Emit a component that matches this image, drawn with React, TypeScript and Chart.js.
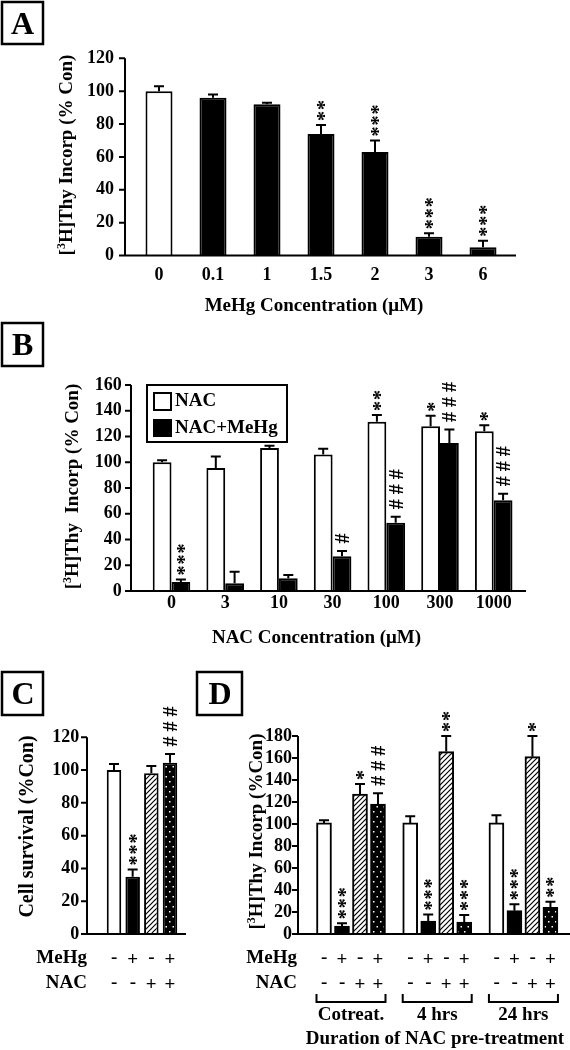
import React, { useEffect, useRef } from 'react';
import { Chart, registerables } from 'chart.js';

Chart.register(...registerables);

const SERIF = '"Liberation Serif", "Times New Roman", Times, serif';
const font = (size: number) => `bold ${size}px ${SERIF}`;

// ---------- Panel A : MeHg dose response ----------
const mehgConcLabels = ['0', '0.1', '1', '1.5', '2', '3', '6'];
const mehgThy = [100, 96, 92, 74, 63, 11.4, 5];
const mehgThyErr = [3, 2, 1, 5.4, 7, 2.1, 4];
const mehgThySig = ['', '', '', '**', '***', '***', '***'];

// ---------- Panel B : NAC dose response ----------
const nacConcLabels = ['0', '3', '10', '30', '100', '300', '1000'];
const nacThy = [100, 95.5, 111, 106, 131.5, 128, 124];
const nacThyErr = [1.5, 9, 1.8, 4.5, 5.2, 8.2, 4.8];
const nacMehgThy = [7, 6, 10, 27, 53, 115, 70.5];
const nacMehgThyErr = [2, 9, 2.5, 4, 4.7, 10.5, 5];
const nacThySig = ['', '', '', '', '**', '*', '*'];
const nacMehgThySig = ['***', '', '', '#', '###', '###', '###'];
const legendB = ['NAC', 'NAC+MeHg'];

// ---------- Panel C : cell survival ----------
const treatMehg = ['-', '+', '-', '+'];
const treatNac = ['-', '-', '+', '+'];
const survival = [100, 35, 98, 104.5];
const survivalErr = [3.7, 4.4, 4.5, 5.3];
const survivalSig = ['', '***', '', '###'];

// ---------- Panel D : NAC pre-treatment ----------
const pretreatGroups = ['Cotreat.', '4 hrs', '24 hrs'];
const thyCtrl = [101, 101, 101];
const thyCtrlErr = [2.4, 6, 7];
const thyMehg = [7.3, 11.8, 21.2];
const thyMehgErr = [2.4, 6, 5.8];
const thyNac = [127.3, 165.8, 161.2];
const thyNacErr = [9, 14.2, 18.8];
const thyBoth = [118.2, 10.9, 24.2];
const thyBothErr = [9.7, 6.4, 5.2];
const sigCtrl = ['', '', ''];
const sigMehg = ['***', '***', '***'];
const sigNac = ['*', '**', '*'];
const sigBoth = ['###', '***', '**'];

// ---------- layout constants ----------
const GROUP_STEP_D = 4.79;

type Seg = { t: string; sup?: boolean };

function drawRich(ctx: CanvasRenderingContext2D, segs: Seg[], cx: number, cy: number, size: number, rot = 0, align: 'center' | 'right' | 'left' = 'center') {
  ctx.save();
  ctx.translate(cx, cy);
  if (rot) ctx.rotate(rot);
  ctx.fillStyle = '#000';
  ctx.textBaseline = 'middle';
  ctx.textAlign = 'left';
  const sup = Math.round(size * 0.62);
  let total = 0;
  for (const s of segs) {
    ctx.font = font(s.sup ? sup : size);
    total += ctx.measureText(s.t).width;
  }
  let x = align === 'center' ? -total / 2 : align === 'right' ? -total : 0;
  for (const s of segs) {
    ctx.font = font(s.sup ? sup : size);
    ctx.fillText(s.t, x, s.sup ? -size * 0.28 : 0);
    x += ctx.measureText(s.t).width;
  }
  ctx.restore();
}

function drawGlyph(ctx: CanvasRenderingContext2D, ch: string, x: number, y: number, size: number, rot = 0) {
  ctx.save();
  ctx.translate(x, y);
  if (rot) ctx.rotate(rot);
  ctx.font = font(size);
  ctx.fillStyle = '#000';
  ctx.textAlign = 'left';
  ctx.textBaseline = 'alphabetic';
  const m = ctx.measureText(ch);
  const dx = -(m.actualBoundingBoxRight - m.actualBoundingBoxLeft) / 2;
  const dy = (m.actualBoundingBoxAscent - m.actualBoundingBoxDescent) / 2;
  ctx.fillText(ch, dx, dy);
  ctx.restore();
}

function drawBox(ctx: CanvasRenderingContext2D, x: number, y: number, w: number, h: number, letter: string) {
  ctx.save();
  ctx.strokeStyle = '#000';
  ctx.lineWidth = 2.5;
  ctx.strokeRect(x, y, w, h);
  ctx.restore();
  drawGlyph(ctx, letter, x + w / 2, y + h / 2, 32);
}

function drawAxes(chart: any, axisX: number, axisEnd: number) {
  const { ctx } = chart;
  const y = chart.scales.y;
  const top = y.getPixelForValue(y.max);
  const bot = y.getPixelForValue(0);
  ctx.save();
  ctx.strokeStyle = '#000';
  ctx.lineWidth = 2;
  ctx.beginPath();
  ctx.moveTo(axisX, top);
  ctx.lineTo(axisX, bot + 1);
  ctx.moveTo(axisX - 1, bot);
  ctx.lineTo(axisEnd, bot);
  for (const t of y.ticks) {
    const py = y.getPixelForValue(t.value);
    ctx.moveTo(axisX - 6, py);
    ctx.lineTo(axisX, py);
  }
  ctx.stroke();
  ctx.restore();
}

function drawErrors(chart: any, vals: number[][], errs: number[][]) {
  const { ctx } = chart;
  const y = chart.scales.y;
  ctx.save();
  ctx.strokeStyle = '#000';
  ctx.lineWidth = 2;
  ctx.beginPath();
  vals.forEach((row, d) => {
    const meta = chart.getDatasetMeta(d);
    row.forEach((v, i) => {
      const el = meta.data[i];
      const y0 = y.getPixelForValue(v);
      const y1 = y.getPixelForValue(v + errs[d][i]);
      ctx.moveTo(el.x, y0);
      ctx.lineTo(el.x, y1);
      ctx.moveTo(el.x - 5, y1);
      ctx.lineTo(el.x + 5, y1);
    });
  });
  ctx.stroke();
  ctx.restore();
}

function drawSigs(chart: any, vals: number[][], errs: number[][], sigs: string[][]) {
  const { ctx } = chart;
  const y = chart.scales.y;
  sigs.forEach((row, d) => {
    const meta = chart.getDatasetMeta(d);
    row.forEach((s, i) => {
      if (!s) return;
      const el = meta.data[i];
      const cap = y.getPixelForValue(vals[d][i] + errs[d][i]);
      const hash = s[0] === '#';
      const step = hash ? 15 : 11;
      let cy = cap - (hash ? 12.5 : 9);
      for (const ch of s) {
        drawGlyph(ctx, ch, el.x, cy, 20, -Math.PI / 2);
        cy -= step;
      }
    });
  });
}

function hatchPattern(ctx: CanvasRenderingContext2D) {
  const c = document.createElement('canvas');
  c.width = 5;
  c.height = 5;
  const g = c.getContext('2d')!;
  g.fillStyle = '#fff';
  g.fillRect(0, 0, 5, 5);
  g.strokeStyle = '#000';
  g.lineWidth = 1.2;
  g.beginPath();
  g.moveTo(-1, 6);
  g.lineTo(6, -1);
  g.moveTo(-1, 1);
  g.lineTo(1, -1);
  g.moveTo(4, 6);
  g.lineTo(6, 4);
  g.stroke();
  return ctx.createPattern(c, 'repeat')!;
}

function dotPattern(ctx: CanvasRenderingContext2D) {
  const c = document.createElement('canvas');
  c.width = 7;
  c.height = 10;
  const g = c.getContext('2d')!;
  g.fillStyle = '#000';
  g.fillRect(0, 0, 7, 10);
  g.fillStyle = '#fff';
  g.fillRect(1, 1, 1.5, 1.5);
  g.fillRect(4.5, 6, 1.5, 1.5);
  return ctx.createPattern(c, 'repeat')!;
}

const tickFont = { family: SERIF, size: 18, weight: 'bold' as const };

function yScale(max: number, width: number, pad: number) {
  return {
    type: 'linear' as const,
    min: 0,
    max,
    grid: { display: false, drawTicks: false },
    border: { display: false },
    ticks: { stepSize: 20, autoSkip: false, padding: pad, color: '#000', font: tickFont },
    afterFit: (s: any) => {
      s.width = width;
    },
  };
}

function baseOptions(padding: any, scales: any) {
  return {
    responsive: false,
    animation: false as const,
    devicePixelRatio: 1,
    events: [] as any[],
    layout: { padding },
    plugins: { legend: { display: false }, tooltip: { enabled: false }, title: { display: false } },
    scales,
  };
}

function catX(pad: number, height: number, showTicks: boolean) {
  return {
    type: 'category' as const,
    offset: true,
    grid: { display: false, drawTicks: false },
    border: { display: false },
    ticks: { display: showTicks, padding: pad, color: '#000', font: tickFont, autoSkip: false, maxRotation: 0, minRotation: 0 },
    afterFit: (s: any) => {
      s.height = height;
    },
  };
}

const thyTitleA: Seg[] = [{ t: '[' }, { t: '3', sup: true }, { t: 'H]Thy Incorp (% Con)' }];
const thyTitleB: Seg[] = [{ t: '[' }, { t: '3', sup: true }, { t: 'H]Thy  Incorp (% Con)' }];
const thyTitleD: Seg[] = [{ t: '[' }, { t: '3', sup: true }, { t: 'H]Thy Incorp (%Con)' }];

function makeA(canvas: HTMLCanvasElement) {
  const decor = {
    id: 'decorA',
    afterDatasetsDraw(chart: any) {
      drawErrors(chart, [mehgThy], [mehgThyErr]);
      drawSigs(chart, [mehgThy], [mehgThyErr], [mehgThySig]);
    },
    afterDraw(chart: any) {
      const ctx = chart.ctx;
      drawAxes(chart, 125, 516);
      drawBox(ctx, 2, 2, 41, 42, 'A');
      drawRich(ctx, thyTitleA, 67.5, 155, 19, -Math.PI / 2);
      drawRich(ctx, [{ t: 'MeHg Concentration (\u03bcM)' }], 314, 306, 19);
    },
  };
  return new Chart(canvas, {
    type: 'bar',
    data: {
      labels: mehgConcLabels,
      datasets: [
        {
          label: 'MeHg',
          data: mehgThy,
          backgroundColor: mehgThy.map((_, i) => (i === 0 ? '#fff' : '#000')),
          borderColor: '#000',
          borderWidth: 2,
          barPercentage: 0.5,
          categoryPercentage: 1,
        },
      ],
    },
    options: baseOptions({ left: 0, right: 60, top: 58.3, bottom: 0 }, {
      x: catX(9, 64.5, true),
      y: yScale(120, 132, 18),
    }) as any,
    plugins: [decor],
  });
}

function makeB(canvas: HTMLCanvasElement) {
  const decor = {
    id: 'decorB',
    afterDatasetsDraw(chart: any) {
      drawErrors(chart, [nacThy, nacMehgThy], [nacThyErr, nacMehgThyErr]);
      drawSigs(chart, [nacThy, nacMehgThy], [nacThyErr, nacMehgThyErr], [nacThySig, nacMehgThySig]);
    },
    afterDraw(chart: any) {
      const ctx = chart.ctx;
      drawAxes(chart, 131, 526);
      drawBox(ctx, 2, 3, 41, 43, 'B');
      drawRich(ctx, thyTitleB, 73, 166.5, 19, -Math.PI / 2);
      drawRich(ctx, [{ t: 'NAC Concentration (\u03bcM)' }], 316.5, 318, 19);
      // legend
      ctx.save();
      ctx.strokeStyle = '#000';
      ctx.lineWidth = 2;
      ctx.strokeRect(147, 65, 140, 57);
      ctx.fillStyle = '#fff';
      ctx.fillRect(154, 73, 17, 17);
      ctx.strokeRect(154, 73, 17, 17);
      ctx.fillStyle = '#000';
      ctx.fillRect(153, 99, 19, 18);
      ctx.restore();
      drawRich(ctx, [{ t: legendB[0] }], 175, 81.5, 19, 0, 'left');
      drawRich(ctx, [{ t: legendB[1] }], 175, 108, 19, 0, 'left');
    },
  };
  return new Chart(canvas, {
    type: 'bar',
    data: {
      labels: nacConcLabels,
      datasets: [
        { label: legendB[0], data: nacThy, backgroundColor: '#fff', borderColor: '#000', borderWidth: 2, barPercentage: 1, categoryPercentage: 0.7 },
        { label: legendB[1], data: nacMehgThy, backgroundColor: '#000', borderColor: '#000', borderWidth: 2, barPercentage: 1, categoryPercentage: 0.7 },
      ],
    },
    options: baseOptions({ left: 0, right: 49.45, top: 65, bottom: 0 }, {
      x: catX(2, 59, true),
      y: yScale(160, 144.65, 23),
    }) as any,
    plugins: [decor],
  });
}

function makeC(canvas: HTMLCanvasElement) {
  const ctx0 = canvas.getContext('2d')!;
  const fills = ['#fff', '#000', hatchPattern(ctx0), dotPattern(ctx0)];
  const decor = {
    id: 'decorC',
    afterDatasetsDraw(chart: any) {
      drawErrors(chart, [survival], [survivalErr]);
      drawSigs(chart, [survival], [survivalErr], [survivalSig]);
    },
    afterDraw(chart: any) {
      const ctx = chart.ctx;
      drawAxes(chart, 87, 186);
      drawBox(ctx, 2, 22, 41, 43, 'C');
      drawRich(ctx, [{ t: 'Cell survival (%Con)' }], 28, 176.5, 20, -Math.PI / 2);
      drawRich(ctx, [{ t: 'MeHg' }], 87, 308, 19, 0, 'right');
      drawRich(ctx, [{ t: 'NAC' }], 87, 333, 19, 0, 'right');
      const meta = chart.getDatasetMeta(0);
      meta.data.forEach((el: any, i: number) => {
        drawGlyph(ctx, treatMehg[i], el.x, 308, 19);
        drawGlyph(ctx, treatNac[i], el.x, 333, 19);
      });
    },
  };
  return new Chart(canvas, {
    type: 'bar',
    data: {
      labels: treatMehg.map((m, i) => `MeHg ${m} / NAC ${treatNac[i]}`),
      datasets: [
        { label: 'Cell survival', data: survival, backgroundColor: fills as any, borderColor: '#000', borderWidth: 2, barPercentage: 0.777, categoryPercentage: 1 },
      ],
    },
    options: baseOptions({ left: 0, right: 10.67, top: 87.3, bottom: 0 }, {
      x: catX(0, 116, false),
      y: yScale(120, 104.67, 25.5),
    }) as any,
    plugins: [decor],
  });
}

function makeD(canvas: HTMLCanvasElement) {
  const ctx0 = canvas.getContext('2d')!;
  const fills = ['#fff', '#000', hatchPattern(ctx0), dotPattern(ctx0)];
  const vals = [thyCtrl, thyMehg, thyNac, thyBoth];
  const errs = [thyCtrlErr, thyMehgErr, thyNacErr, thyBothErr];
  const sigs = [sigCtrl, sigMehg, sigNac, sigBoth];
  const names = ['Control', 'MeHg', 'NAC', 'NAC+MeHg'];
  const decor = {
    id: 'decorD',
    afterDatasetsDraw(chart: any) {
      drawErrors(chart, vals, errs);
      drawSigs(chart, vals, errs, sigs);
    },
    afterDraw(chart: any) {
      const ctx = chart.ctx;
      drawAxes(chart, 108, 380);
      drawBox(ctx, 7, 22, 45, 43, 'D');
      drawRich(ctx, thyTitleD, 67.5, 181.5, 19, -Math.PI / 2);
      drawRich(ctx, [{ t: 'MeHg' }], 107, 308, 19, 0, 'right');
      drawRich(ctx, [{ t: 'NAC' }], 107, 333, 19, 0, 'right');
      vals.forEach((_, d) => {
        const meta = chart.getDatasetMeta(d);
        meta.data.forEach((el: any) => {
          drawGlyph(ctx, treatMehg[d], el.x, 308, 19);
          drawGlyph(ctx, treatNac[d], el.x, 333, 19);
        });
      });
      const first = chart.getDatasetMeta(0);
      const last = chart.getDatasetMeta(3);
      ctx.save();
      ctx.strokeStyle = '#000';
      ctx.lineWidth = 2;
      pretreatGroups.forEach((name, g) => {
        const a: any = first.data[g];
        const b: any = last.data[g];
        const l = a.x - a.width / 2;
        const r = b.x + b.width / 2;
        ctx.beginPath();
        ctx.moveTo(l, 344);
        ctx.lineTo(l, 352);
        ctx.lineTo(r, 352);
        ctx.lineTo(r, 344);
        ctx.stroke();
        drawRich(ctx, [{ t: name }], (l + r) / 2, 365, 19);
      });
      ctx.restore();
      drawRich(ctx, [{ t: 'Duration of NAC pre-treatment' }], 245, 389, 19);
    },
  };
  return new Chart(canvas, {
    type: 'bar',
    data: {
      datasets: vals.map((row, d) => ({
        label: names[d],
        data: row.map((v, g) => ({ x: g * GROUP_STEP_D + d, y: v })),
        backgroundColor: fills[d] as any,
        borderColor: '#000',
        borderWidth: 2,
        barThickness: 15,
        grouped: false,
      })),
    },
    options: baseOptions({ left: 0, right: 0, top: 86, bottom: 0 }, {
      x: {
        type: 'linear',
        min: -1.444,
        max: 13.667,
        offset: false,
        grid: { display: false, drawTicks: false, offset: false },
        border: { display: false },
        ticks: { display: false },
        afterFit: (s: any) => {
          s.height = 116;
        },
      },
      y: yScale(180, 108, 6),
    }) as any,
    plugins: [decor],
  });
}

function ChartCanvas({ left, top, width, height, make }: { left: number; top: number; width: number; height: number; make: (c: HTMLCanvasElement) => Chart }) {
  const ref = useRef<HTMLCanvasElement>(null);
  useEffect(() => {
    const chart = make(ref.current!);
    return () => chart.destroy();
  }, []);
  return (
    <canvas
      ref={ref}
      width={width}
      height={height}
      style={{ position: 'absolute', left, top, width, height, display: 'block' }}
    />
  );
}

export default function App() {
  return (
    <div style={{ position: 'absolute', left: 0, top: 0, width: 570, height: 1050, background: '#fff', overflow: 'hidden' }}>
      <ChartCanvas left={0} top={0} width={570} height={320} make={makeA} />
      <ChartCanvas left={0} top={320} width={570} height={330} make={makeB} />
      <ChartCanvas left={0} top={650} width={190} height={400} make={makeC} />
      <ChartCanvas left={190} top={650} width={380} height={400} make={makeD} />
    </div>
  );
}
